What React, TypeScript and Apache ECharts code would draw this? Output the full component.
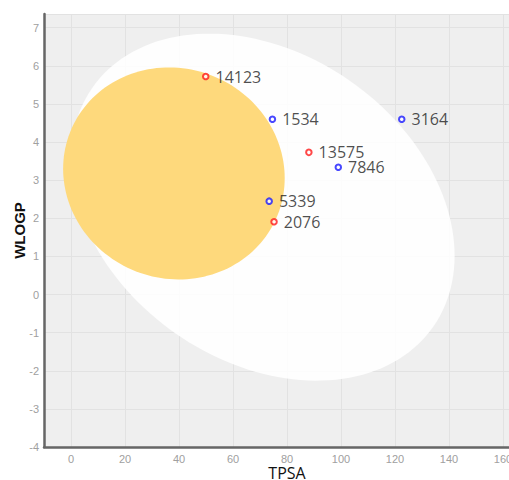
import React, { useEffect, useRef } from "react";
import * as echarts from "echarts";

const molNames = ["14123", "1534", "3164", "13575", "7846", "5339", "2076"];
const tpsaValues = [49.9, 74.6, 122.5, 88.1, 99.0, 73.4, 75.2];
const wlogpValues = [5.72, 4.6, 4.6, 3.73, 3.34, 2.45, 1.91];
const pgpSubstrate = [false, true, true, false, true, true, false];

// BOILED-Egg ellipses: center x, center y, full width, full height, angle (deg)
const ellipseNames = ["HIA", "BBB"];
const ellipseCenterX = [71.051, 38.117];
const ellipseCenterY = [2.292, 3.177];
const ellipseWidth = [142.081, 82.061];
const ellipseHeight = [8.74, 5.557];
const ellipseAngle = [-1.031325, -0.171887];
const ellipseColors = ["rgba(255,255,255,0.9)", "#FED97C"];

const xTickLabels = [0, 20, 40, 60, 80, 100, 120, 140, 160];

export default function App() {
  const ref = useRef<HTMLDivElement>(null);
  useEffect(() => {
    if (!ref.current) return;
    const chart = echarts.init(ref.current, undefined, { renderer: "svg" });

    const ellipseSeries = ellipseNames.map((name, k) => ({
      type: "custom",
      name,
      silent: true,
      z: 1 + k,
      data: [[ellipseCenterX[k], ellipseCenterY[k], ellipseWidth[k], ellipseHeight[k], ellipseAngle[k]]],
      renderItem: (params: any, api: any) => {
        const cx = api.value(0);
        const cy = api.value(1);
        const w = api.value(2);
        const h = api.value(3);
        const ang = (api.value(4) * Math.PI) / 180;
        const pts: number[][] = [];
        const n = 160;
        for (let i = 0; i < n; i++) {
          const t = (i / n) * 2 * Math.PI;
          const ex = (w / 2) * Math.cos(t);
          const ey = (h / 2) * Math.sin(t);
          const x = cx + ex * Math.cos(ang) - ey * Math.sin(ang);
          const y = cy + ex * Math.sin(ang) + ey * Math.cos(ang);
          pts.push(api.coord([x, y]));
        }
        return { type: "polygon", shape: { points: pts }, style: { fill: ellipseColors[k] } };
      },
    }));

    const scatterData = molNames.map((n, i) => ({
      name: n,
      value: [tpsaValues[i], wlogpValues[i]],
      itemStyle: { borderColor: pgpSubstrate[i] ? "#1a1aff" : "#ff1a1a" },
    }));

    chart.setOption({
      animation: false,
      grid: {
        left: 44,
        right: 10,
        top: 14,
        bottom: 33,
        containLabel: false,
        outerBoundsMode: "none",
        show: true,
        backgroundColor: "#efefef",
        borderWidth: 0,
      },
      xAxis: {
        type: "value",
        min: -10,
        max: 170,
        splitNumber: 9,
        name: "TPSA",
        nameLocation: "middle",
        nameGap: 18,
        nameMoveOverlap: false,
        nameTextStyle: { fontFamily: "Open Sans", fontSize: 16, color: "#111", lineHeight: 16 },
        axisLine: { show: true, onZero: false, lineStyle: { color: "#666", width: 2.5 } },
        axisTick: { show: false },
        axisLabel: {
          color: "#a0a0a0",
          fontSize: 11,
          fontFamily: "Liberation Sans",
          margin: 6,
          showMinLabel: false,
          showMaxLabel: false,
          formatter: (v: number) => (xTickLabels.indexOf(v) >= 0 ? String(v) : ""),
        },
        splitLine: { show: true, lineStyle: { color: "#e2e2e2", width: 1 } },
      },
      yAxis: {
        type: "value",
        min: -4,
        max: 7.36,
        interval: 1,
        name: "WLOGP",
        nameLocation: "middle",
        nameGap: 17,
        nameMoveOverlap: false,
        nameRotate: 90,
        nameTextStyle: { fontFamily: "Liberation Sans", fontWeight: "bold", fontSize: 15, color: "#111", lineHeight: 15 },
        axisLine: { show: true, onZero: false, lineStyle: { color: "#666", width: 2.5 } },
        axisTick: { show: false },
        axisLabel: {
          color: "#a0a0a0",
          fontSize: 11,
          fontFamily: "Liberation Sans",
          margin: 5,
          formatter: (v: number) => (Number.isInteger(v) ? String(v) : ""),
        },
        splitLine: { show: true, lineStyle: { color: "#e2e2e2", width: 1 } },
      },
      series: [
        ...ellipseSeries,
        {
          type: "scatter",
          z: 5,
          symbol: "circle",
          symbolSize: 5.5,
          itemStyle: { color: "#fff", borderWidth: 2 },
          label: {
            show: true,
            position: "right",
            distance: 6,
            formatter: (p: any) => p.name,
            fontFamily: "Open Sans",
            fontSize: 16,
            color: "#1e1e1e",
          },
          data: scatterData,
        },
      ],
    } as any);
    return () => chart.dispose();
  }, []);

  return (
    <div style={{ position: "fixed", left: 0, top: 0, width: 509, height: 480, overflow: "hidden", background: "#fff" }}>
      <div ref={ref} style={{ position: "absolute", left: 0, top: 0, width: 540, height: 480 }} />
    </div>
  );
}
